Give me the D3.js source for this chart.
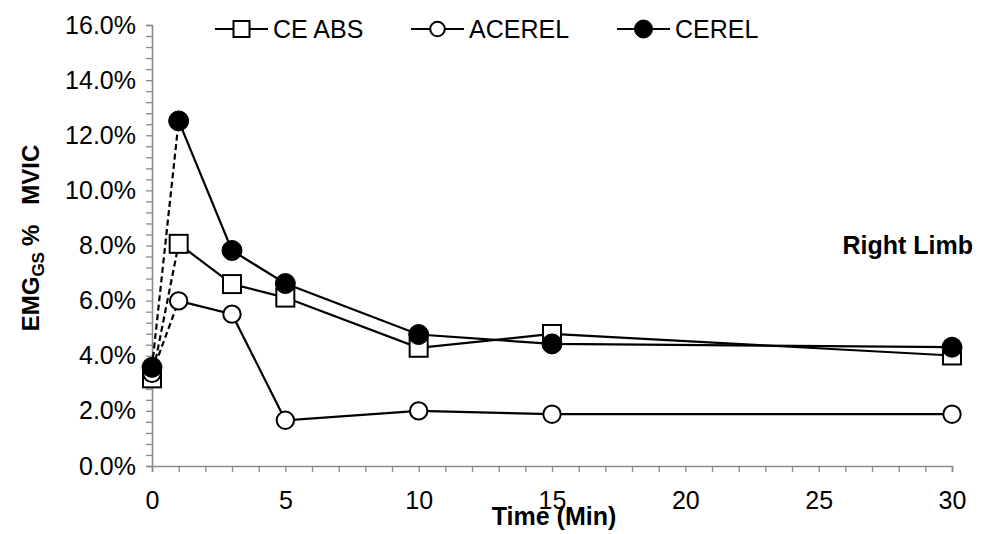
<!DOCTYPE html>
<html>
<head>
<meta charset="utf-8">
<script src="https://cdn.jsdelivr.net/npm/d3@7"></script>
<style>
  body { margin: 0; background: #fff; }
  text { font-family: "Liberation Sans", Arial, sans-serif; fill: #000; }
</style>
</head>
<body>
<div id="chart"></div>
<script>
// chart data (percent of MVIC)
var times = [0, 1, 3, 5, 10, 15, 30];
var ceAbs = [3.18, 8.06, 6.60, 6.11, 4.29, 4.79, 4.01];
var acerel = [3.36, 5.99, 5.51, 1.66, 2.00, 1.88, 1.88];
var cerel = [3.58, 12.52, 7.82, 6.62, 4.77, 4.43, 4.31];
var seriesNames = ["CE ABS", "ACEREL", "CEREL"];
var xTicks = [0, 5, 10, 15, 20, 25, 30];
var yTicks = [0, 2, 4, 6, 8, 10, 12, 14, 16];

var svgWidth = 995;
var svgHeight = 534;
var margin = { top: 25, right: 43, bottom: 68, left: 152 };
var chartWidth = svgWidth - margin.left - margin.right;
var chartHeight = svgHeight - margin.top - margin.bottom;

var svg = d3.select("#chart").append("svg")
  .attr("width", svgWidth)
  .attr("height", svgHeight);

var chartGroup = svg.append("g")
  .attr("transform", `translate(${margin.left}, ${margin.top})`);

var x = d3.scaleLinear().domain([0, 30]).range([0, chartWidth]);
var y = d3.scaleLinear().domain([0, 16]).range([chartHeight, 0]);

var axisColor = "#8a8a8a";

// minor + major ticks, all the same length
var xAxis = d3.axisBottom(x).tickValues(d3.range(0, 31, 1)).tickSize(6)
  .tickFormat(d => xTicks.includes(d) ? d : "");
var yAxis = d3.axisLeft(y).tickValues(d3.range(0, 16.01, 0.4)).tickSize(6)
  .tickFormat(d => {
    var r = Math.round(d * 10) / 10;
    return yTicks.includes(r) ? r.toFixed(1) + "%" : "";
  });

var gx = chartGroup.append("g")
  .attr("transform", `translate(0, ${chartHeight})`)
  .call(xAxis);
var gy = chartGroup.append("g").call(yAxis);

[gx, gy].forEach(function(g) {
  g.select(".domain").attr("stroke", axisColor).attr("stroke-width", 1.6);
  g.selectAll(".tick line").attr("stroke", axisColor).attr("stroke-width", 1.3);
  g.selectAll(".tick text")
    .attr("font-size", "25px")
    .attr("fill", "#000")
    .style("font-family", "'Liberation Sans', Arial, sans-serif");
});
gx.selectAll(".tick text").attr("dy", "1.35em");
gy.selectAll(".tick text").attr("x", -16);

// series
var series = [
  { name: seriesNames[0], values: ceAbs, marker: "square" },
  { name: seriesNames[1], values: acerel, marker: "open" },
  { name: seriesNames[2], values: cerel, marker: "filled" }
];

var line = d3.line().x(d => x(d.t)).y(d => y(d.v));

series.forEach(function(s) {
  var pts = times.map((t, i) => ({ t: t, v: s.values[i] }));
  // first segment (0 -> 1 min) is dashed
  chartGroup.append("path")
    .attr("d", line(pts.slice(0, 2)))
    .attr("fill", "none")
    .attr("stroke", "#000")
    .attr("stroke-width", 2.2)
    .attr("stroke-dasharray", "6,3.5");
  chartGroup.append("path")
    .attr("d", line(pts.slice(1)))
    .attr("fill", "none")
    .attr("stroke", "#000")
    .attr("stroke-width", 2.2);
  s.pts = pts;
});

function drawMarker(g, type, cx, cy, big) {
  if (type === "square") {
    var a = big ? 18 : 16;
    g.append("rect")
      .attr("x", cx - a / 2).attr("y", cy - a / 2)
      .attr("width", a).attr("height", a)
      .attr("fill", "#fff").attr("stroke", "#000").attr("stroke-width", 2);
  } else if (type === "open") {
    g.append("circle")
      .attr("cx", cx).attr("cy", cy).attr("r", big ? 8.7 : 7.3)
      .attr("fill", "#fff").attr("stroke", "#000").attr("stroke-width", 2);
  } else {
    g.append("circle")
      .attr("cx", cx).attr("cy", cy).attr("r", big ? 10 : 9)
      .attr("fill", "#000").attr("stroke", "#000").attr("stroke-width", 1);
  }
}

series.forEach(function(s) {
  s.pts.forEach(function(p) {
    drawMarker(chartGroup, s.marker, x(p.t), y(p.v), true);
  });
});

// legend
var legendX = [215, 411, 617];
var legendY = 29;
series.forEach(function(s, i) {
  var lg = svg.append("g");
  lg.append("line")
    .attr("x1", legendX[i]).attr("x2", legendX[i] + 53)
    .attr("y1", legendY).attr("y2", legendY)
    .attr("stroke", "#000").attr("stroke-width", 2.2);
  drawMarker(lg, s.marker, legendX[i] + 26.5, legendY, false);
  lg.append("text")
    .attr("x", legendX[i] + 58)
    .attr("y", legendY)
    .attr("dy", "0.36em")
    .attr("font-size", "25px")
    .text(s.name);
});

// annotation
svg.append("text")
  .attr("x", 973).attr("y", 245)
  .attr("dy", "0.36em")
  .attr("text-anchor", "end")
  .attr("font-size", "25px")
  .attr("font-weight", "bold")
  .text("Right Limb");

// axis titles
svg.append("text")
  .attr("x", margin.left + x(15) + 2)
  .attr("y", 516)
  .attr("dy", "0.36em")
  .attr("text-anchor", "middle")
  .attr("font-size", "25px")
  .attr("font-weight", "bold")
  .text("Time (Min)");

var yTitle = svg.append("text")
  .attr("transform", "translate(30, 238) rotate(-90)")
  .attr("dy", "0.36em")
  .attr("text-anchor", "middle")
  .attr("font-size", "24px")
  .attr("font-weight", "bold");
yTitle.append("tspan").text("EMG");
yTitle.append("tspan").attr("font-size", "17px").attr("dy", "0.3em").text("GS");
yTitle.append("tspan").attr("dy", "-0.2em").attr("dx", "6").text("%");
yTitle.append("tspan").attr("dx", "20").text("MVIC");
</script>
</body>
</html>
